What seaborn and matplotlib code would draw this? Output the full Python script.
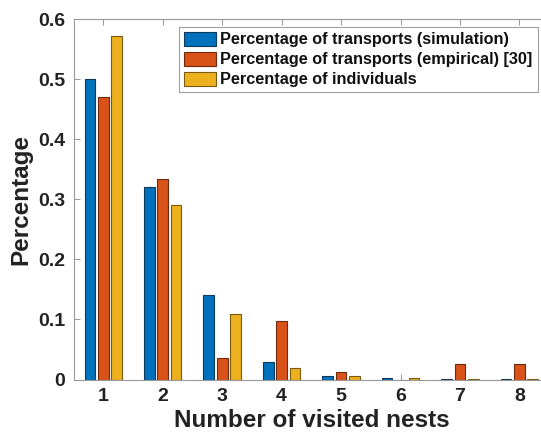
import matplotlib
matplotlib.use("Agg")
import matplotlib.pyplot as plt
import seaborn as sns
import pandas as pd
from matplotlib.patches import Patch

# Number of visited nests (categories)
nests = [1, 2, 3, 4, 5, 6, 7, 8]
# Fractions per category for each series
transports_sim = [0.50, 0.32, 0.14, 0.029, 0.0055, 0.002, 0.001, 0.001]
transports_emp = [0.47, 0.333, 0.036, 0.097, 0.013, 0.0, 0.025, 0.025]
individuals = [0.571, 0.29, 0.109, 0.0195, 0.005, 0.003, 0.001, 0.001]

series_names = [
    "Percentage of transports (simulation)",
    "Percentage of transports (empirical) [30]",
    "Percentage of individuals",
]
colors = ["#0072BD", "#D95319", "#EDB120"]
edges = ["#0b3a5c", "#6e2a0c", "#7a5a10"]

df = pd.DataFrame({
    "nests": nests * 3,
    "value": transports_sim + transports_emp + individuals,
    "series": [series_names[0]] * 8 + [series_names[1]] * 8 + [series_names[2]] * 8,
})

sns.set_style("white")
plt.rcParams["font.family"] = ["Liberation Sans", "DejaVu Sans"]
plt.rcParams["font.weight"] = "bold"

fig = plt.figure(figsize=(5.41, 4.40), dpi=100)
ax = fig.add_axes([73.6 / 541, 1 - 379.5 / 440, 475.5 / 541, 360.5 / 440])

sns.barplot(data=df, x="nests", y="value", hue="series", hue_order=series_names,
            palette=colors, width=0.675, gap=0.2, ax=ax, legend=False,
            linewidth=0.8, saturation=1)

# darker outline per series
for container, ec in zip(ax.containers, edges):
    for bar in container:
        bar.set_edgecolor(ec)

ax.set_xlim(-0.5, 7.5)
ax.set_ylim(0, 0.6)
ax.set_yticks([0, 0.1, 0.2, 0.3, 0.4, 0.5, 0.6])
ax.set_yticklabels(["0", "0.1", "0.2", "0.3", "0.4", "0.5", "0.6"])
ax.set_xticks(range(8))
ax.set_xticklabels([str(n) for n in nests])

ax.tick_params(axis="both", direction="in", length=4, width=0.6, color="#888888",
               labelsize=14, labelcolor="#222222", top=True, bottom=True,
               left=True, right=False, pad=6)
for lab in ax.get_xticklabels() + ax.get_yticklabels():
    lab.set_fontweight("bold")

for s in ax.spines.values():
    s.set_color("#999999")
    s.set_linewidth(0.8)

ax.set_xlabel("Number of visited nests", fontsize=17.5, fontweight="bold",
              color="#222222", labelpad=3)
ax.set_ylabel("Percentage", fontsize=17.5, fontweight="bold",
              color="#222222", labelpad=4)

handles = [Patch(facecolor=c, edgecolor=e, linewidth=0.8) for c, e in zip(colors, edges)]
leg = ax.legend(handles, series_names, loc="upper left",
                bbox_to_anchor=((179 - 73.6) / 475.5, (379.5 - 27) / 360.5),
                frameon=True, fancybox=False, prop={"weight": "bold", "size": 11.7},
                handlelength=2.0, handleheight=0.95, handletextpad=0.25,
                labelspacing=0.27, borderpad=0.3, borderaxespad=0)
leg.get_frame().set_edgecolor("#888888")
leg.get_frame().set_linewidth(0.8)
for t in leg.get_texts():
    t.set_color("#111111")

fig.savefig("out.png", dpi=100)
